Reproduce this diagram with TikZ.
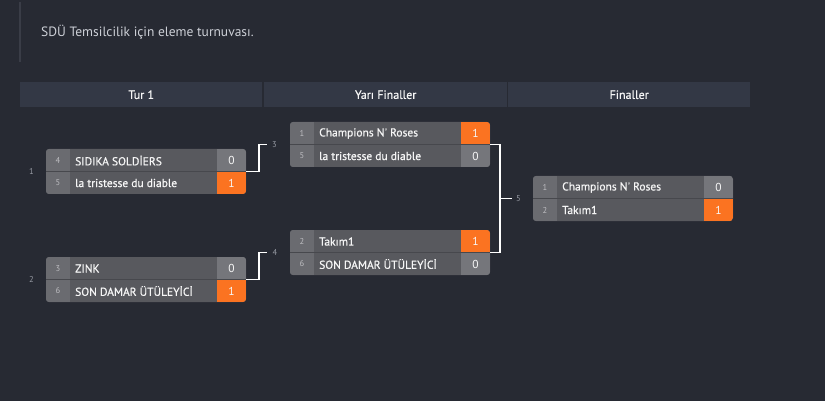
\documentclass[tikz,border=0pt]{standalone}
\usepackage{fontspec}
\setmainfont{PT Sans}
\newfontfamily\teamfont[FakeBold=0.6]{PT Sans}
\definecolor{bgc}{HTML}{272A33}
\definecolor{hdrc}{HTML}{333845}
\definecolor{namec}{HTML}{58595E}
\definecolor{seedc}{HTML}{6A6B70}
\definecolor{scorec}{HTML}{75767B}
\definecolor{winc}{HTML}{FB7321}
\definecolor{divc}{HTML}{47484D}
\definecolor{txtc}{HTML}{F6F6F6}
\definecolor{seedtxt}{HTML}{BDBDC1}
\definecolor{lblc}{HTML}{969AA3}
\definecolor{titlec}{HTML}{CDD0D7}
\definecolor{linec}{HTML}{3A3D47}
\tikzset{
  matchframe/.style={fill=namec, rounded corners=3pt, minimum width=200pt, minimum height=45pt, anchor=north west, inner sep=0pt, outer sep=0pt},
  hdr/.style={fill=hdrc, minimum height=25pt, inner sep=0pt, anchor=north west, text=txtc, font=\teamfont\fontsize{12}{14}\selectfont},
  teamtxt/.style={anchor=west, text=txtc, font=\teamfont\fontsize{11.5}{13}\selectfont, inner sep=0pt},
  seedtxt/.style={text=seedtxt, font=\fontsize{8.5}{9}\selectfont, inner sep=0pt},
  scoretxt/.style={text=txtc, font=\fontsize{11.5}{13}\selectfont, inner sep=0pt},
  lbl/.style={text=lblc, font=\fontsize{8.5}{9}\selectfont, inner sep=1pt},
  conn/.style={draw=white, line width=1.6pt},
}
% \tmatch{name}{x}{y}{seed1}{team1}{score1}{col1}
\newcommand\tmatch[7]{%
  \node[matchframe] (#1) at (#2,#3) {};
  \begin{scope}
    \clip[rounded corners=3pt] (#1.north west) rectangle (#1.south east);
    \fill[seedc] (#1.north west) rectangle ([xshift=24pt]#1.south west);
    \fill[#7] ([xshift=-29pt]#1.north east) rectangle (#1.east);
  \end{scope}
  \node[seedtxt] (#1s1) at ([xshift=12pt,yshift=-11.5pt]#1.north west) {#4};
  \node[teamtxt] (#1t1) at ([xshift=29pt,yshift=-11.5pt]#1.north west) {#5};
  \node[scoretxt] (#1c1) at ([xshift=-14.5pt,yshift=-11.5pt]#1.north east) {#6};
}
% \tmatchb{name}{seed2}{team2}{score2}{col2}
\newcommand\tmatchb[5]{%
  \begin{scope}
    \clip[rounded corners=3pt] (#1.north west) rectangle (#1.south east);
    \fill[#5] ([xshift=-29pt]#1.east) rectangle (#1.south east);
  \end{scope}
  \draw[divc, line width=1pt] (#1.west) -- (#1.east);
  \node[seedtxt] (#1s2) at ([xshift=12pt,yshift=11pt]#1.south west) {#2};
  \node[teamtxt] (#1t2) at ([xshift=29pt,yshift=11pt]#1.south west) {#3};
  \node[scoretxt] (#1c2) at ([xshift=-14.5pt,yshift=11pt]#1.south east) {#4};
}
\begin{document}
\begin{tikzpicture}[x=1pt,y=-1pt]
\fill[bgc] (0,0) rectangle (825,401);
\useasboundingbox (0,0) rectangle (825,401);
% title
\coordinate (ltop) at (20,2);
\coordinate (lbot) at (20,62);
\draw[linec, line width=1.2pt] (ltop) -- (lbot);
\node[anchor=west, text=titlec, font=\fontsize{13.5}{15}\selectfont, inner sep=0pt] (title) at (41,32.5) {SDÜ Temsilcilik için eleme turnuvası.};
% headers
\node[hdr, minimum width=242pt] (h1) at (20,82) {Tur 1};
\node[hdr, minimum width=243pt] (h2) at (264,82) {Yarı Finaller};
\node[hdr, minimum width=242pt] (h3) at (508,82) {Finaller};
% matches
\tmatch{m1}{46}{149}{4}{SIDIKA SOLDİERS}{0}{scorec}
\tmatchb{m1}{5}{la tristesse du diable}{1}{winc}
\tmatch{m2}{46}{257}{3}{ZINK}{0}{scorec}
\tmatchb{m2}{6}{SON DAMAR ÜTÜLEYİCİ}{1}{winc}
\tmatch{m3}{290}{122}{1}{Champions N' Roses}{1}{winc}
\tmatchb{m3}{5}{la tristesse du diable}{0}{scorec}
\tmatch{m4}{290}{230}{2}{Takım1}{1}{winc}
\tmatchb{m4}{6}{SON DAMAR ÜTÜLEYİCİ}{0}{scorec}
\tmatch{m5}{533}{176}{1}{Champions N' Roses}{0}{scorec}
\tmatchb{m5}{2}{Takım1}{1}{winc}
% match labels
\node[lbl] (n1) at (31.5,171.5) {1};
\node[lbl] (n2) at (31.5,279.5) {2};
\node[lbl] (n3) at (274.5,144.5) {3};
\node[lbl] (n4) at (275,252.5) {4};
\node[lbl] (n5) at (518.5,198.5) {5};
% connectors
\draw[conn] (m1.east) -- ++(13,0) |- ([xshift=-4pt]n3.west);
\draw[conn] (m2.east) -- ++(13,0) |- ([xshift=-4pt]n4.west);
\draw[conn] (m3.east) -- ++(10,0) |- ([xshift=-3pt]n5.west);
\draw[conn] (m4.east) -- ++(10,0) |- ([xshift=-3pt]n5.west);
\end{tikzpicture}
\end{document}
